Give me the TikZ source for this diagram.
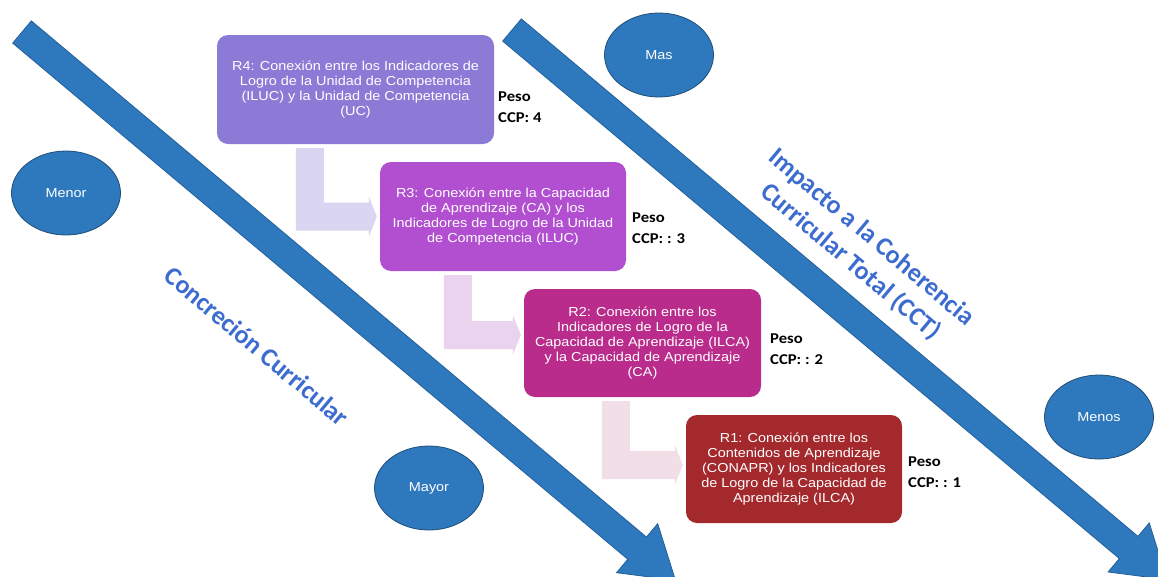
\documentclass[tikz,border=0pt]{standalone}
\usepackage{fontspec}
\setmainfont{Liberation Sans}
\newfontfamily\boxfont[FakeStretch=1.11]{Liberation Sans}
\newfontfamily\pesofont[FakeStretch=1.11]{Carlito}
\newfontfamily\titlefont{Carlito}
\usetikzlibrary{calc, positioning, shapes.geometric}

\definecolor{arrowblue}{HTML}{2E78BD}
\definecolor{arrowline}{HTML}{23609A}
\definecolor{ovalline}{HTML}{1F4E79}
\definecolor{titleblue}{HTML}{3D6CD0}
\definecolor{rfourcol}{HTML}{8C7AD7}
\definecolor{rthreecol}{HTML}{B24FD0}
\definecolor{rtwocol}{HTML}{BA2C8C}
\definecolor{ronecol}{HTML}{A4292D}
\definecolor{lcolA}{HTML}{DAD6F2}
\definecolor{lcolB}{HTML}{EAD3EE}
\definecolor{lcolC}{HTML}{F1DEE6}

\begin{document}
\begin{tikzpicture}[x=1pt, y=-1pt,
	bigarrow/.style={fill=arrowblue, draw=arrowline, line width=0.8pt, line join=miter},
	box/.style={rounded corners=11pt, text=white, align=center, inner sep=0pt,
		font=\boxfont\fontsize{13}{15}\selectfont},
	oval/.style={ellipse, draw=ovalline, line width=0.8pt, fill=arrowblue, text=white,
		minimum width=109pt, minimum height=84pt, font=\boxfont\fontsize{13}{15}\selectfont},
	peso/.style={anchor=west, align=left, inner sep=0pt,
		font=\pesofont\bfseries\fontsize{15}{20.5}\selectfont},
	titletext/.style={text=titleblue, rotate=-40, align=center,
		font=\titlefont\bfseries\fontsize{26}{32}\selectfont}]

	\useasboundingbox (0,0) rectangle (1158,576);
	\clip (0,0) rectangle (1158,576);
	\fill[white] (0,0) rectangle (1158,576);

	% the two big arrows
	\filldraw[bigarrow, shift={(22,32)}, rotate=-40] (0,-14.5) -- (803,-14.5) --
	(803,-32) -- (853,0) -- (803,32) -- (803,14.5) -- (0,14.5) -- cycle;
	\filldraw[bigarrow, shift={(512,30)}, rotate=-40] (0,-14.5) -- (805,-14.5) --
	(805,-32) -- (855,0) -- (805,32) -- (805,14.5) -- (0,14.5) -- cycle;

	% steps
	\node[box, fill=rfourcol, minimum width=277pt, minimum height=109pt] (r4) at (355.5,89.5)
	{R4: Conexión entre los Indicadores de\\Logro de la Unidad de Competencia\\(ILUC) y la Unidad de Competencia\\(UC)};
	\node[box, fill=rthreecol, minimum width=246pt, minimum height=109pt] (r3) at (503,216.5)
	{R3: Conexión entre la Capacidad\\de Aprendizaje (CA) y los\\Indicadores de Logro de la Unidad\\de Competencia (ILUC)};
	\node[box, fill=rtwocol, minimum width=237pt, minimum height=108pt] (r2) at (642.5,343)
	{R2: Conexión entre los\\Indicadores de Logro de la\\Capacidad de Aprendizaje (ILCA)\\y la Capacidad de Aprendizaje\\(CA)};
	\node[box, fill=ronecol, minimum width=216pt, minimum height=108pt] (r1) at (794,469)
	{R1: Conexión entre los\\Contenidos de Aprendizaje\\(CONAPR) y los Indicadores\\de Logro de la Capacidad de\\Aprendizaje (ILCA)};

	% bent connectors
	\fill[lcolA] let \p1 = (r4.south west), \p2 = (r3.west) in
	(\x1+79pt,\y1-4pt) -- (\x1+107pt,\y1-4pt) -- (\x1+107pt,\y2+14pt) --
	(\x2-11pt,\y2+14pt) -- (\x2-11pt,\y2+20pt) -- (\x2-3pt,\y2) --
	(\x2-11pt,\y2-20pt) -- (\x2-11pt,\y2-14pt) -- (\x1+79pt,\y2-14pt) -- cycle;
	\fill[lcolB] let \p1 = (r3.south west), \p2 = ($(r2.west)+(0,-8)$) in
	(\x1+64pt,\y1-4pt) -- (\x1+92pt,\y1-4pt) -- (\x1+92pt,\y2+14pt) --
	(\x2-11pt,\y2+14pt) -- (\x2-11pt,\y2+20pt) -- (\x2-3pt,\y2) --
	(\x2-11pt,\y2-20pt) -- (\x2-11pt,\y2-14pt) -- (\x1+64pt,\y2-14pt) -- cycle;
	\fill[lcolC] let \p1 = (r2.south west), \p2 = ($(r1.west)+(0,-4)$) in
	(\x1+78pt,\y1-4pt) -- (\x1+106pt,\y1-4pt) -- (\x1+106pt,\y2+14pt) --
	(\x2-11pt,\y2+14pt) -- (\x2-11pt,\y2+20pt) -- (\x2-3pt,\y2) --
	(\x2-11pt,\y2-20pt) -- (\x2-11pt,\y2-14pt) -- (\x1+78pt,\y2-14pt) -- cycle;

	% weights
	\node[peso] (peso4) at (498,107) {Peso\\CCP: 4};
	\node[peso] (peso3) at (632,228) {Peso\\CCP: : 3};
	\node[peso] (peso2) at (770,349) {Peso\\CCP: : 2};
	\node[peso] (peso1) at (908,472) {Peso\\CCP: : 1};

	% scale marks
	\node[oval] (mas) at (659,55) {Mas};
	\node[oval] (menor) at (66,193) {Menor};
	\node[oval] (mayor) at (429,488) {Mayor};
	\node[oval] (menos) at (1099,417) {Menos};

	\node[titletext] (concrecion) at (257,346) {Concreción Curricular};
	\node[titletext] (impacto) at (861,250) {Impacto a la Coherencia\\Curricular Total (CCT)};

\end{tikzpicture}
\end{document}
